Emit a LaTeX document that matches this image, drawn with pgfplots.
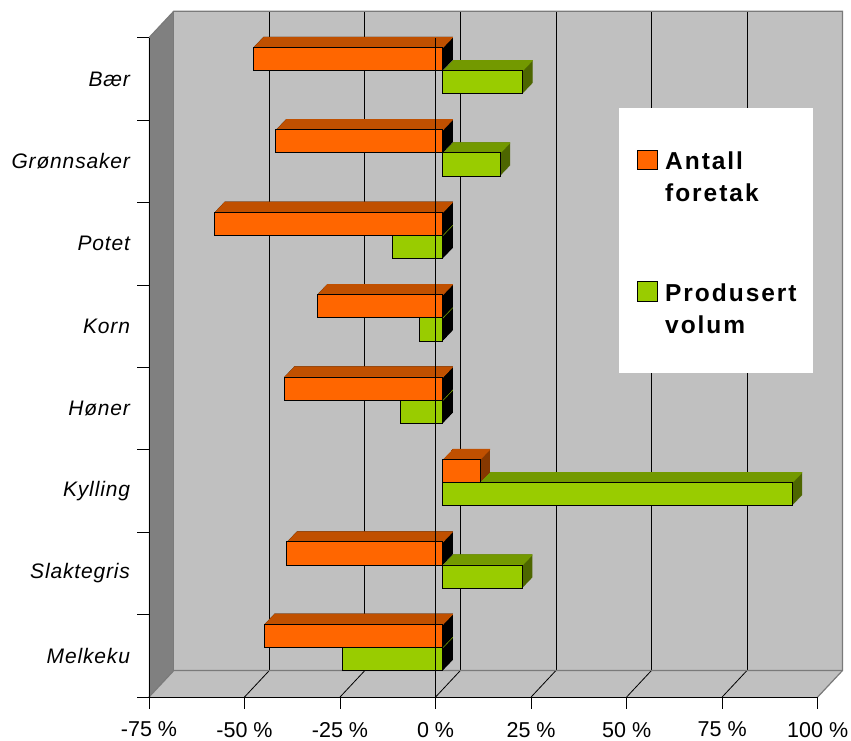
\documentclass[border=0pt]{standalone}
\usepackage{pgfplots}
\usepackage{pgfplotstable}
\pgfplotsset{compat=1.18}
\usepackage{fontspec}
\setmainfont{Liberation Sans}
\newfontfamily\legfont[LetterSpace=8]{Liberation Sans}
\newfontfamily\catfont[LetterSpace=4]{Liberation Sans}
\definecolor{oFront}{HTML}{FF6600}
\definecolor{oTop}{HTML}{C05000}
\definecolor{oSide}{HTML}{863800}
\definecolor{gFront}{HTML}{99CC00}
\definecolor{gTop}{HTML}{739900}
\definecolor{gSide}{HTML}{4D6600}
\definecolor{wallBack}{HTML}{C0C0C0}
\definecolor{wallLeft}{HTML}{808080}
\definecolor{edgeGray}{HTML}{7A7A7A}

% category index: 1 = Melkeku (bottom) ... 8 = Baer (top)
\pgfplotstableread{
cat antall volum
8 -49.6 20.9
7 -43.7 15.0
6 -59.7 -13.2
5 -32.9 -6.1
4 -41.5 -11.0
3 9.8 91.4
2 -40.8 20.8
1 -46.7 -26.3
}\datatab

\tikzset{ds/.style={shift={(24.8pt,26.5pt)}}}

\begin{document}
\begin{tikzpicture}
\useasboundingbox (0,0) rectangle (851pt,-740pt);
\begin{axis}[
  at={(149pt,-697pt)}, anchor=south west,
  scale only axis, width=668.7pt, height=659.3pt,
  xmin=-75, xmax=100, ymin=0.5, ymax=8.5,
  clip=false, axis on top,
  axis x line*=bottom, axis y line*=left,
  axis line style={black, line width=0.9pt},
  tick align=outside, major tick length=11.5pt,
  tick style={black, line width=0.9pt},
  xtick={-75,-50,-25,0,25,50,75,100},
  xticklabels={-75 \%,-50 \%,-25 \%,0 \%,25 \%,50 \%,75 \%,100 \%},
  xticklabel style={font=\fontsize{21.5}{25}\selectfont, yshift=-10pt},
  ytick={0.5,1.5,...,8.5}, yticklabels={},
  extra y ticks={1,2,3,4,5,6,7,8},
  extra y tick labels={Melkeku,Slaktegris,Kylling,Høner,Korn,Potet,Grønnsaker,Bær},
  extra y tick style={tick style={draw=none},
     yticklabel style={font=\catfont\itshape\fontsize{21}{25}\selectfont, xshift=-4pt}},
]
% ---- walls and floor
\fill[wallLeft] (axis cs:-75,0.5) -- (axis cs:-75,8.5) -- ([ds]axis cs:-75,8.5) -- ([ds]axis cs:-75,0.5) -- cycle;
\fill[wallBack] ([ds]axis cs:-75,0.5) rectangle ([ds]axis cs:100,8.5);
\fill[wallBack] (axis cs:-75,0.5) -- (axis cs:100,0.5) -- ([ds]axis cs:100,0.5) -- ([ds]axis cs:-75,0.5) -- cycle;
\pgfplotsinvokeforeach{-50,-25,0,25,50,75}{
  \draw[black, line width=0.8pt] ([ds]axis cs:#1,0.5) -- ([ds]axis cs:#1,8.5);
  \draw[black, line width=0.8pt] (axis cs:#1,0.5) -- ([ds]axis cs:#1,0.5);
}
\draw[edgeGray, line width=1.2pt] (axis cs:-75,8.5) -- ([ds]axis cs:-75,8.5) -- ([ds]axis cs:100,8.5) -- ([ds]axis cs:100,0.5) -- (axis cs:100,0.5);
\draw[edgeGray, line width=1.2pt] (axis cs:-75,0.5) -- ([ds]axis cs:-75,0.5) -- ([ds]axis cs:100,0.5);
\draw[edgeGray, line width=1.2pt] ([ds]axis cs:-75,0.5) -- ([ds]axis cs:-75,8.5);

% ---- green series (Produsert volum): depth
\pgfplotsinvokeforeach{0.5,1,...,10}{
  \addplot[forget plot, xbar, bar width=23.2pt, bar shift=-11.6pt, fill=black, draw=none,
    xshift={7.2pt+#1pt}, yshift={8.4pt+1.05*#1pt}, restrict x to domain=-200:0]
    table[x=volum, y=cat] {\datatab};
  \addplot[forget plot, xbar, bar width=23.2pt, bar shift=-11.6pt, fill=gSide, draw=none,
    xshift={7.2pt+#1pt}, yshift={8.4pt+1.05*#1pt}, restrict x to domain=0:200]
    table[x=volum, y=cat] {\datatab};
}
\pgfplotsinvokeforeach{0,0.5,...,10}{
  \addplot[forget plot, xbar, bar width=1.1pt, bar shift=-0.55pt, fill=gTop, draw=none,
    xshift={7.2pt+#1pt}, yshift={8.4pt+1.05*#1pt}]
    table[x=volum, y=cat] {\datatab};
}
% ---- orange series (Antall foretak): depth
\pgfplotsinvokeforeach{0.5,1,...,10}{
  \addplot[forget plot, xbar, bar width=23.2pt, bar shift=11.6pt, fill=black, draw=none,
    xshift={7.2pt+#1pt}, yshift={8.4pt+1.05*#1pt}, restrict x to domain=-200:0]
    table[x=antall, y=cat] {\datatab};
  \addplot[forget plot, xbar, bar width=23.2pt, bar shift=11.6pt, fill=oSide, draw=none,
    xshift={7.2pt+#1pt}, yshift={8.4pt+1.05*#1pt}, restrict x to domain=0:200]
    table[x=antall, y=cat] {\datatab};
}
\pgfplotsinvokeforeach{0,0.5,...,10}{
  \addplot[forget plot, xbar, bar width=1.1pt, bar shift=22.65pt, fill=oTop, draw=none,
    xshift={7.2pt+#1pt}, yshift={8.4pt+1.05*#1pt}]
    table[x=antall, y=cat] {\datatab};
}
% ---- front faces
\addplot[xbar, bar width=23.2pt, bar shift=-11.6pt, fill=gFront, draw=black, line width=0.9pt,
  xshift=7.2pt, yshift=8.4pt] table[x=volum, y=cat] {\datatab};
\addplot[xbar, bar width=23.2pt, bar shift=11.6pt, fill=oFront, draw=black, line width=0.9pt,
  xshift=7.2pt, yshift=8.4pt] table[x=antall, y=cat] {\datatab};
% front zero line
\draw[black, line width=0.8pt] (axis cs:0,0.5) -- (axis cs:0,8.5);
\end{axis}
% ---- legend
\fill[white] (619pt,-108.3pt) rectangle (812.7pt,-373.3pt);
\filldraw[fill=oFront, draw=black, line width=0.9pt] (637.7pt,-150.7pt) rectangle (657.3pt,-169.3pt);
\filldraw[fill=gFront, draw=black, line width=0.9pt] (637.7pt,-281.7pt) rectangle (657.3pt,-301pt);
\begin{scope}[every node/.style={anchor=base west, inner sep=0pt, font=\legfont\bfseries\fontsize{24.5}{30}\selectfont}]
\node at (665pt,-169pt) {Antall};
\node at (665pt,-201pt) {foretak};
\node at (665pt,-301pt) {Produsert};
\node at (665pt,-333pt) {volum};
\end{scope}
\end{tikzpicture}
\end{document}
